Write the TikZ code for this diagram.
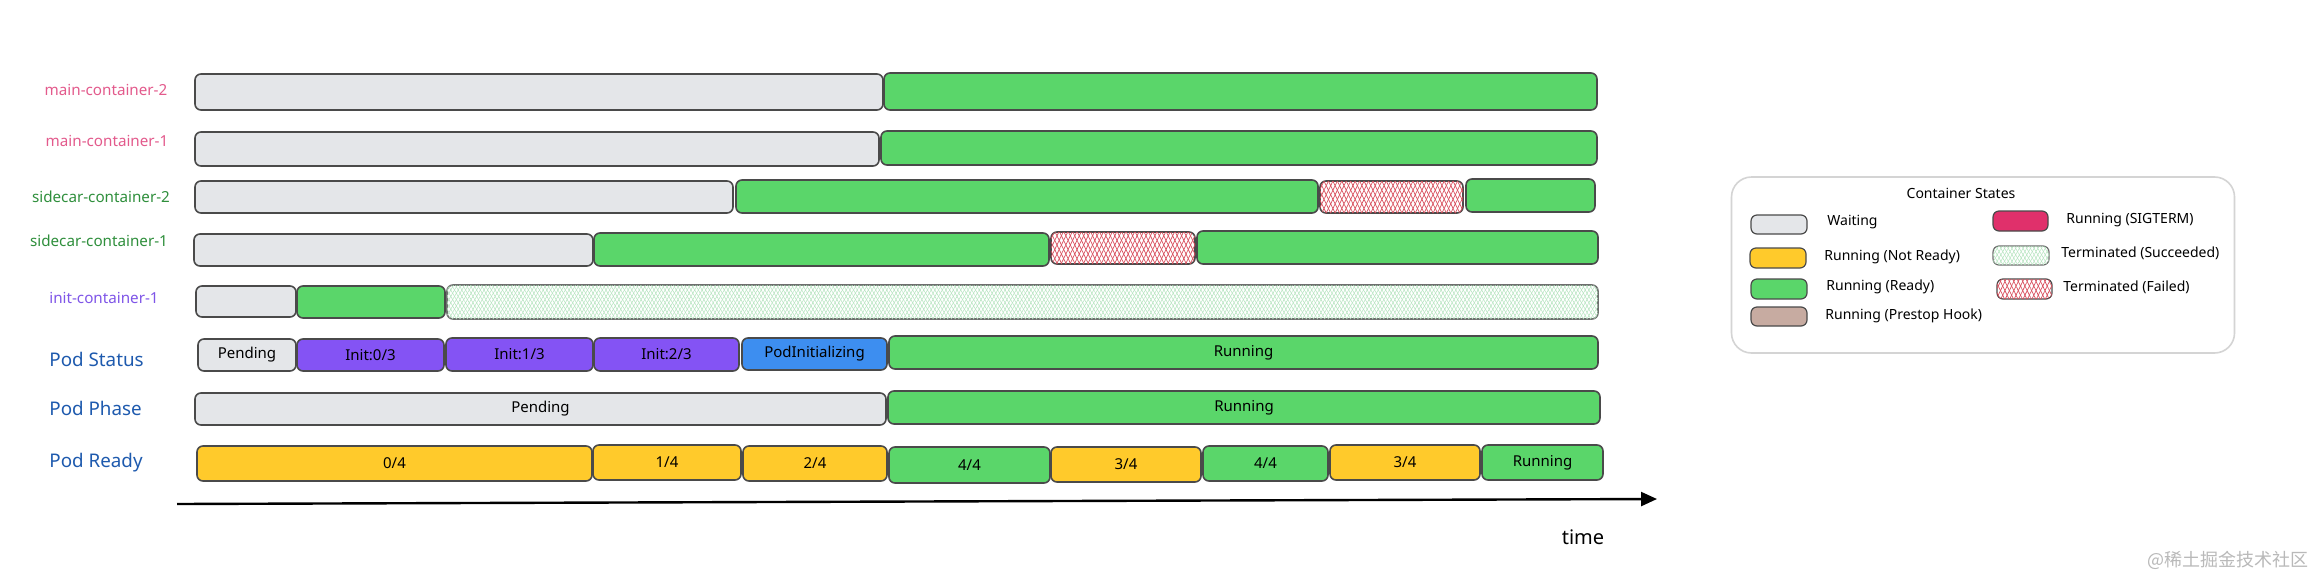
\documentclass[tikz,border=0pt]{standalone}
\usepackage{fontspec}
\setmainfont{Noto Sans}
\newfontfamily\cjkfont{Noto Sans CJK SC}
\usetikzlibrary{arrows.meta,patterns.meta}

\definecolor{cgray}{HTML}{E4E6E9}
\definecolor{cgreen}{HTML}{5AD66A}
\definecolor{cyellow}{HTML}{FFCA2B}
\definecolor{cpurple}{HTML}{8453F4}
\definecolor{cblue}{HTML}{3D8EF0}
\definecolor{ccrimson}{HTML}{E0306B}
\definecolor{cbrown}{HTML}{C7ABA1}
\definecolor{chred}{HTML}{D9505E}
\definecolor{chgreen}{HTML}{B4E4BE}
\definecolor{cborder}{HTML}{4A4A4A}
\definecolor{clegend}{HTML}{D4D4D4}
\definecolor{lpink}{HTML}{E35A8C}
\definecolor{lgreen}{HTML}{2F8F3C}
\definecolor{lpurple}{HTML}{7F55E8}
\definecolor{lblue}{HTML}{1E5AAE}

\newcommand{\tlseg}[7]{%
  \node[#2, minimum width={(#4-#3)*0.5pt}, minimum height={(#6-#5)*0.5pt}] (#1) at ({(#3+#4)/2},{(#5+#6)/2}) {#7};}

\tikzset{
  seg/.style={draw=cborder, line width=0.8pt, rounded corners=3pt, inner sep=0pt,
    font=\fontsize{7.5}{9}\selectfont},
  waiting/.style={seg, fill=cgray},
  ready/.style={seg, fill=cgreen},
  notready/.style={seg, fill=cyellow},
  initst/.style={seg, fill=cpurple},
  podinit/.style={seg, fill=cblue},
  sigterm/.style={seg, fill=ccrimson},
  prestop/.style={seg, fill=cbrown},
  failed/.style={seg, fill=white,
    postaction={pattern={Lines[angle=64,distance=2pt,line width=0.35pt]}, pattern color=chred},
    postaction={pattern={Lines[angle=-64,distance=2pt,line width=0.35pt]}, pattern color=chred}},
  succeeded/.style={seg, draw=cborder!80, fill=white,
    postaction={pattern={Lines[angle=60,distance=1.6pt,line width=0.25pt]}, pattern color=chgreen},
    postaction={pattern={Lines[angle=-60,distance=1.6pt,line width=0.25pt]}, pattern color=chgreen}},
  swatch/.style={line width=0.6pt},
  rowlabel/.style={font=\fontsize{7.6}{9}\selectfont, inner sep=0pt},
  podlabel/.style={font=\fontsize{9.4}{11}\selectfont, text=lblue, anchor=west, inner sep=0pt},
  lgtext/.style={font=\fontsize{7}{8}\selectfont, anchor=west, inner sep=0pt},
}

\begin{document}
\begin{tikzpicture}[x=0.5pt,y=-0.5pt]
\useasboundingbox (0,0) rectangle (2316,578);
\fill[white] (0,0) rectangle (2316,578);

% row labels
\node[rowlabel, text=lpink] (lm2) at (106,90) {main-container-2};
\node[rowlabel, text=lpink] (lm1) at (107,141) {main-container-1};
\node[rowlabel, text=lgreen] (ls2) at (101,197) {sidecar-container-2};
\node[rowlabel, text=lgreen] (ls1) at (99,241) {sidecar-container-1};
\node[rowlabel, text=lpurple] (li1) at (104,298) {init-container-1};
\node[podlabel] (lps) at (49,359) {Pod Status};
\node[podlabel] (lpp) at (49,408) {Pod Phase};
\node[podlabel] (lpr) at (49,463) {Pod Ready};

% main-container-2
\tlseg{m2a}{waiting}{195}{883}{74}{110}{}
\tlseg{m2b}{ready}{884}{1597}{73}{110}{}
% main-container-1
\tlseg{m1a}{waiting}{195}{879}{132}{166}{}
\tlseg{m1b}{ready}{881}{1597}{131}{165}{}
% sidecar-container-2
\tlseg{s2a}{waiting}{195}{733}{181}{213}{}
\tlseg{s2b}{ready}{736}{1318}{180}{213}{}
\tlseg{s2c}{failed}{1320}{1463}{181}{213}{}
\tlseg{s2d}{ready}{1466}{1595}{179}{212}{}
% sidecar-container-1
\tlseg{s1a}{waiting}{194}{593}{234}{266}{}
\tlseg{s1b}{ready}{594}{1049}{233}{266}{}
\tlseg{s1c}{failed}{1051}{1195}{232}{264}{}
\tlseg{s1d}{ready}{1197}{1598}{231}{264}{}
% init-container-1
\tlseg{i1a}{waiting}{196}{296}{286}{317}{}
\tlseg{i1b}{ready}{297}{445}{286}{318}{}
\tlseg{i1c}{succeeded}{447}{1598}{285}{319}{}
% Pod Status
\tlseg{ps1}{waiting}{198}{296}{339}{371}{Pending}
\tlseg{ps2}{initst}{297}{444}{339}{371}{Init:0/3}
\tlseg{ps3}{initst}{446}{593}{338}{371}{Init:1/3}
\tlseg{ps4}{initst}{594}{739}{338}{371}{Init:2/3}
\tlseg{ps5}{podinit}{742}{887}{338}{370}{PodInitializing}
\tlseg{ps6}{ready}{889}{1598}{336}{369}{Running}
% Pod Phase
\tlseg{pp1}{waiting}{195}{886}{393}{425}{Pending}
\tlseg{pp2}{ready}{888}{1600}{391}{424}{Running}
% Pod Ready
\tlseg{pr1}{notready}{197}{592}{446}{481}{0/4}
\tlseg{pr2}{notready}{593}{741}{445}{480}{1/4}
\tlseg{pr3}{notready}{743}{887}{446}{481}{2/4}
\tlseg{pr4}{ready}{889}{1050}{447}{483}{4/4}
\tlseg{pr5}{notready}{1051}{1201}{447}{482}{3/4}
\tlseg{pr6}{ready}{1203}{1328}{446}{481}{4/4}
\tlseg{pr7}{notready}{1330}{1480}{445}{480}{3/4}
\tlseg{pr8}{ready}{1482}{1603}{445}{480}{Running}

% time axis
\coordinate (tstart) at (177,504);
\coordinate (tend) at (1657,499);
\draw[line width=1.2pt, -{Triangle[length=8pt,width=7pt]}] (tstart) -- (tend);
\node[font=\fontsize{10}{12}\selectfont, inner sep=0pt] (time) at (1583,537) {time};

% legend
\node[draw=clegend, line width=0.8pt, rounded corners=10pt, minimum width=251.5pt, minimum height=88pt, inner sep=0pt] (legend) at (1983,265) {};
\node[font=\fontsize{7}{8}\selectfont, inner sep=0pt] (ltitle) at (1961,193) {Container States};
\tlseg{sw1}{waiting,swatch}{1751}{1807}{215}{234}{}
\tlseg{sw2}{notready,swatch}{1750}{1806}{248}{268}{}
\tlseg{sw3}{ready,swatch}{1751}{1807}{279}{299}{}
\tlseg{sw4}{prestop,swatch}{1751}{1807}{307}{326}{}
\tlseg{sw5}{sigterm,swatch}{1993}{2048}{211}{231}{}
\tlseg{sw6}{succeeded,swatch}{1993}{2049}{246}{265}{}
\tlseg{sw7}{failed,swatch}{1997}{2052}{279}{299}{}
\node[lgtext] (lt1) at (1827,222) {Waiting};
\node[lgtext] (lt2) at (1824,257) {Running (Not Ready)};
\node[lgtext] (lt3) at (1826,287) {Running (Ready)};
\node[lgtext] (lt4) at (1825,316) {Running (Prestop Hook)};
\node[lgtext] (lt5) at (2066,220) {Running (SIGTERM)};
\node[lgtext] (lt6) at (2061,253) {Terminated (Succeeded)};
\node[lgtext] (lt7) at (2063,287) {Terminated (Failed)};

% watermark
\node[font=\cjkfont\fontsize{9}{10}\selectfont, text=gray!55, anchor=east, inner sep=0pt] (wm) at (2309,560) {@稀土掘金技术社区};
\end{tikzpicture}
\end{document}
